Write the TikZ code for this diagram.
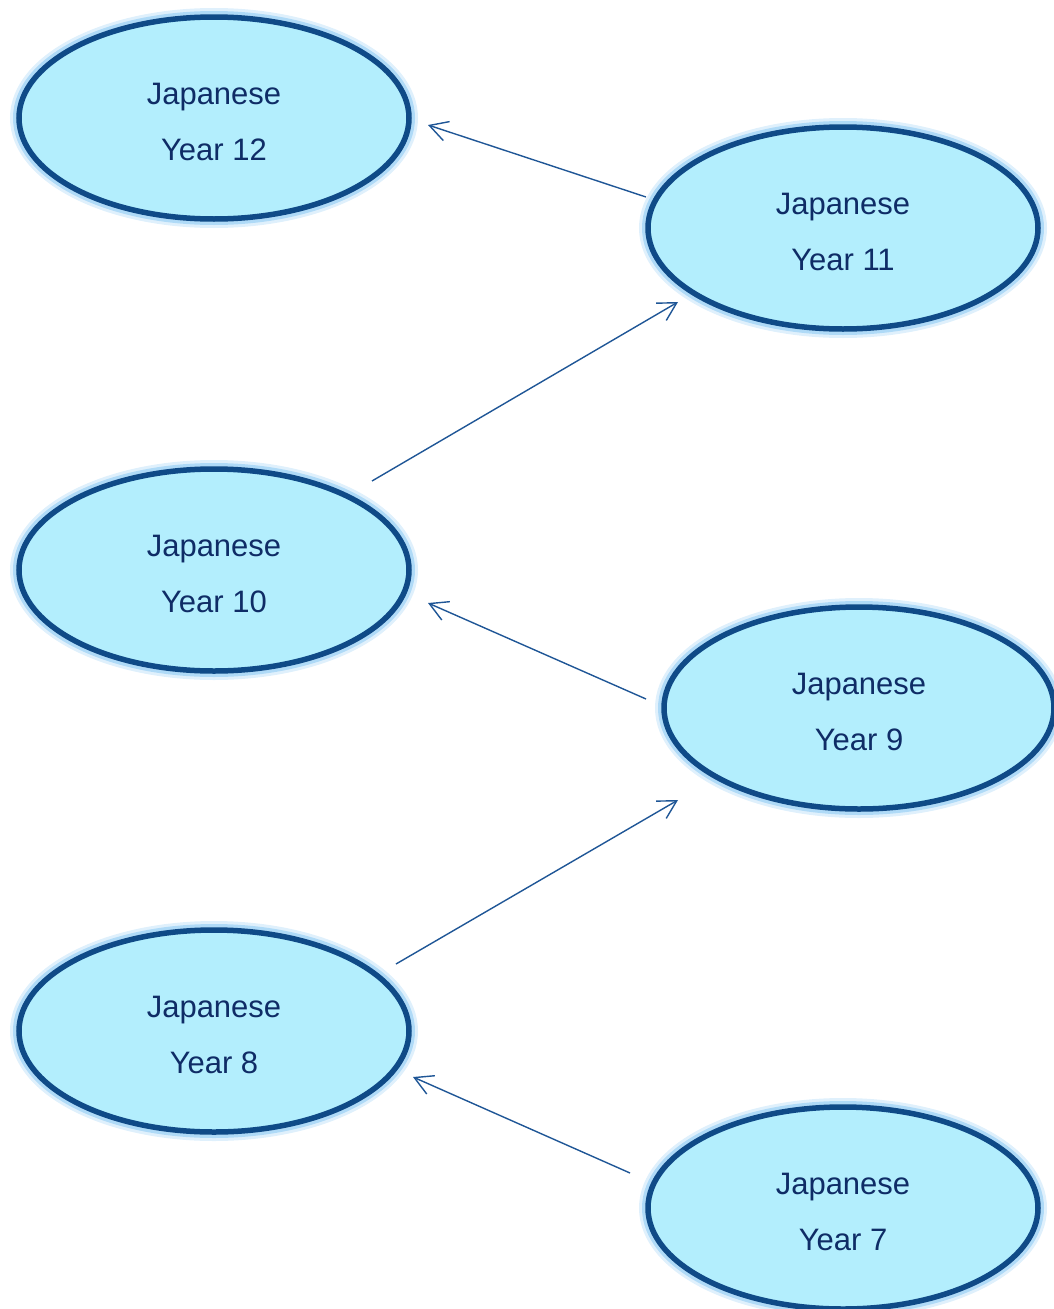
\documentclass[tikz,border=0pt]{standalone}
\usepackage{fontspec}
\setmainfont{Liberation Sans}
\usetikzlibrary{shapes.geometric,arrows.meta,calc}
\definecolor{ellfill}{HTML}{B3EEFD}
\definecolor{elldraw}{HTML}{0F4A87}
\definecolor{glowc}{HTML}{80C4F2}
\definecolor{txtc}{HTML}{0F2C66}
\definecolor{arrc}{HTML}{1F5696}
\newcommand{\twolines}[2]{\raisebox{0pt}[\dimexpr\height+6pt\relax]{\begin{tabular}{@{}c@{}}#1\\#2\end{tabular}}}
\tikzset{
  yearnode/.style={ellipse, inner sep=0pt, minimum width=390pt, minimum height=202pt,
    fill=ellfill, draw=elldraw, line width=5.5pt, text=txtc, align=center,
    font=\fontsize{31}{56}\selectfont,
    preaction={draw=glowc, line width=18pt, draw opacity=0.25},
    preaction={draw=glowc, line width=12pt, draw opacity=0.5}},
  arr/.style={draw=arrc, line width=1.4pt, -{Straight Barb[length=18pt,width=20pt,line width=1.4pt]}}
}
\begin{document}
\begin{tikzpicture}[x=1pt,y=-1pt]
\useasboundingbox (0,0) rectangle (1054,1309);
\node[yearnode] (n12) at (214,118) {\twolines{Japanese}{Year 12}};
\node[yearnode] (n11) at (843,228) {\twolines{Japanese}{Year 11}};
\node[yearnode] (n10) at (214,570) {\twolines{Japanese}{Year 10}};
\node[yearnode] (n9) at (859,708) {\twolines{Japanese}{Year 9}};
\node[yearnode] (n8) at (214,1031) {\twolines{Japanese}{Year 8}};
\node[yearnode] (n7) at (843,1208) {\twolines{Japanese}{Year 7}};
\draw[arr] ($(n11.center)+(-197,-31)$) -- ($(n12.center)+(214,7)$);
\draw[arr] ($(n10.center)+(158,-89)$) -- ($(n11.center)+(-165,74)$);
\draw[arr] ($(n9.center)+(-213,-9)$) -- ($(n10.center)+(214,33)$);
\draw[arr] ($(n8.center)+(182,-67)$) -- ($(n9.center)+(-181,92)$);
\draw[arr] ($(n7.center)+(-213,-35)$) -- ($(n8.center)+(199,46)$);
\end{tikzpicture}
\end{document}
